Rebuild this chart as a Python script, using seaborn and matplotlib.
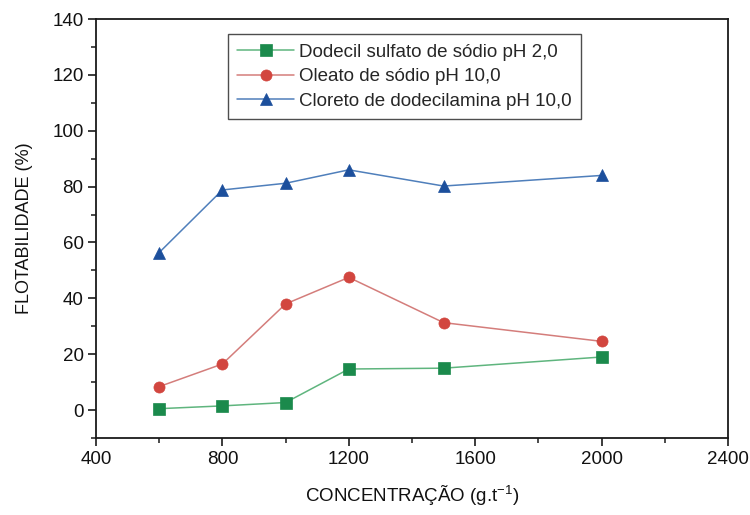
import matplotlib
matplotlib.use("Agg")
import matplotlib.pyplot as plt
from matplotlib.ticker import MultipleLocator
import seaborn as sns
import pandas as pd

# Collector concentrations (g/t)
concentracao = [600, 800, 1000, 1200, 1500, 2000]

# Floatability (%) for each collector
dodecil_sulfato = [0.5, 1.5, 2.7, 14.7, 15.0, 19.0]
oleato = [8.4, 16.5, 38.0, 47.5, 31.3, 24.6]
cloreto_dodecilamina = [56.4, 78.8, 81.2, 86.0, 80.2, 84.0]

series_names = [
    "Dodecil sulfato de sódio pH 2,0",
    "Oleato de sódio pH 10,0",
    "Cloreto de dodecilamina pH 10,0",
]
series_values = [dodecil_sulfato, oleato, cloreto_dodecilamina]

line_colors = ["#5fb57e", "#d47d7b", "#4f7fbb"]
marker_colors = ["#1b8a4c", "#d2463f", "#1c4f9c"]
marker_shapes = ["s", "o", "^"]

rows = []
for name, vals in zip(series_names, series_values):
    for c, v in zip(concentracao, vals):
        rows.append({"conc": c, "flot": v, "serie": name})
df = pd.DataFrame(rows)

sns.set_theme(style="white")
plt.rcParams["font.family"] = ["Liberation Sans", "DejaVu Sans"]
plt.rcParams["mathtext.default"] = "regular"

fig = plt.figure(figsize=(7.5, 5.15), dpi=100)
ax = fig.add_axes([0.128, 0.1495, 0.8427, 0.8136])

sns.lineplot(
    data=df, x="conc", y="flot", hue="serie", style="serie",
    hue_order=series_names, style_order=series_names,
    palette=line_colors, markers=marker_shapes, dashes=False,
    linewidth=1.1, markersize=8, legend=False, ax=ax,
)

handles = []
for line, mc, ms in zip(ax.get_lines(), marker_colors, marker_shapes):
    line.set_markerfacecolor(mc)
    line.set_markeredgecolor(mc)
    line.set_markeredgewidth(0.5)
    if ms == "^":
        line.set_markersize(9)
    handles.append(line)

leg = ax.legend(
    handles, series_names, loc="upper left", bbox_to_anchor=(0.209, 0.964),
    borderaxespad=0, frameon=True, fancybox=False, fontsize=13.5,
    handlelength=3.0, handletextpad=0.3, labelspacing=0.4,
    borderpad=0.5,
)
leg.get_frame().set_edgecolor("#222222")
leg.get_frame().set_linewidth(1.0)

ax.set_xlim(400, 2400)
ax.set_ylim(-10, 140)
ax.xaxis.set_major_locator(MultipleLocator(400))
ax.xaxis.set_minor_locator(MultipleLocator(200))
ax.yaxis.set_major_locator(MultipleLocator(20))
ax.yaxis.set_minor_locator(MultipleLocator(10))
ax.set_yticks(range(0, 141, 20))

for sp in ax.spines.values():
    sp.set_color("#1a1a1a")
    sp.set_linewidth(1.3)

ax.tick_params(axis="both", which="major", direction="out", length=6, width=1.2,
               color="#1a1a1a", labelsize=13.5, labelcolor="#111111",
               bottom=True, left=True, top=False, right=False, pad=3)
ax.tick_params(axis="both", which="minor", direction="out", length=3.5, width=1.1,
               color="#1a1a1a", bottom=True, left=True, top=False, right=False)

ax.set_xlabel("CONCENTRAÇÃO (g.t$^{-1}$)", fontsize=13.5, color="#111111", labelpad=12)
ax.set_ylabel("FLOTABILIDADE (%)", fontsize=13, color="#111111", labelpad=14)
ax.grid(False)

fig.savefig("out.png", dpi=100)
